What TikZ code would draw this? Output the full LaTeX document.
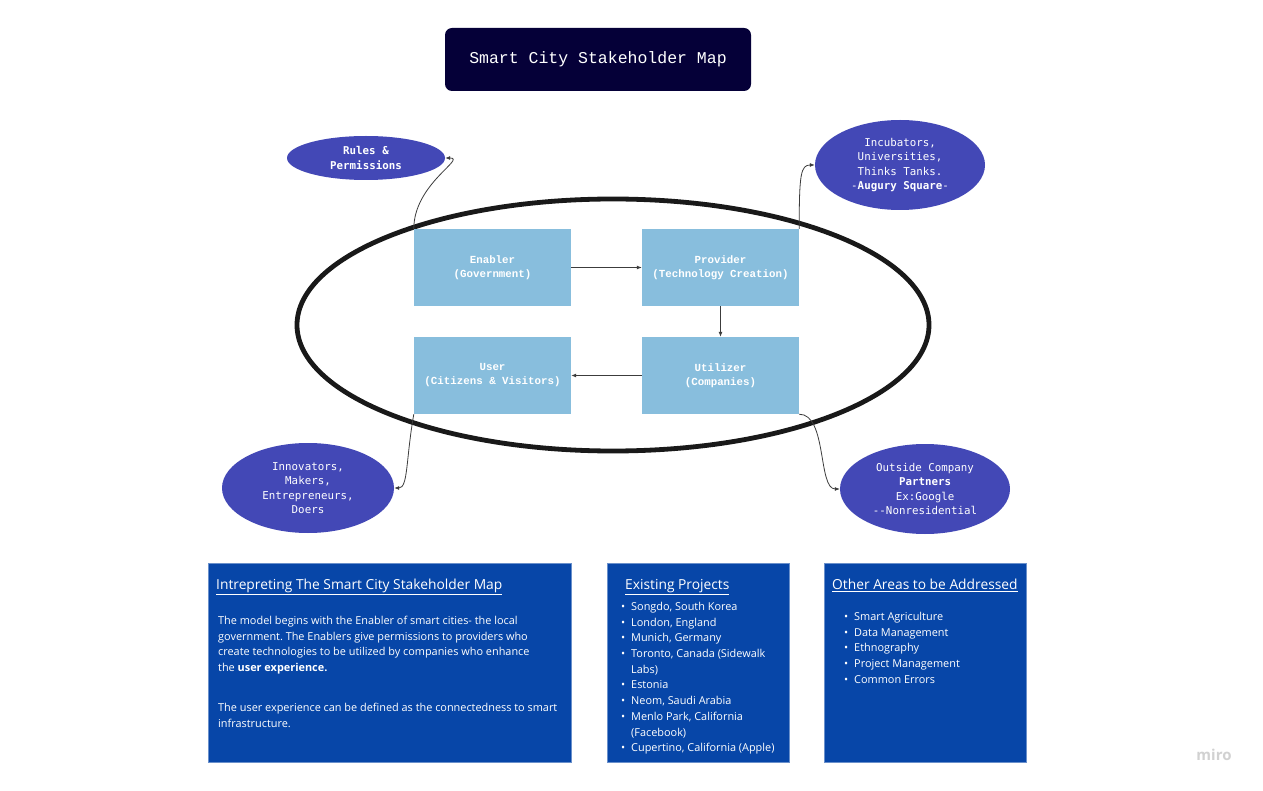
\documentclass[tikz,border=0pt]{standalone}
\usepackage{fontspec}
\setmainfont{Open Sans}
\setmonofont{Liberation Mono}
\newfontfamily\ellfont{DejaVu Sans Mono}
\usetikzlibrary{shapes.geometric,arrows.meta}

\definecolor{titlenavy}{RGB}{5,0,56}
\definecolor{roleblue}{RGB}{136,190,221}
\definecolor{groupblue}{RGB}{67,72,182}
\definecolor{infoblue}{RGB}{7,70,168}
\definecolor{linkgray}{RGB}{60,60,60}
\definecolor{ringblack}{RGB}{25,25,25}

\newcommand{\itemdot}{\makebox[10pt][l]{\textbullet}}
\newcommand{\itemgap}{\hspace*{10pt}}
\frenchspacing

\begin{document}
\begin{tikzpicture}[x=1pt,y=-1pt,
    >={Latex[length=5pt,width=4pt]},
    rolebox/.style={rectangle,fill=roleblue,text=white,minimum width=157pt,
        minimum height=77pt,align=center,
        font=\ttfamily\bfseries\fontsize{10.8}{14}\selectfont},
    group/.style={ellipse,fill=groupblue,text=white,inner sep=0pt,align=center,
        font=\ellfont\fontsize{10.8}{14.5}\selectfont},
    infobox/.style={rectangle,fill=infoblue,draw=infoblue!60!white,line width=0.6pt},
    infotitle/.style={anchor=north west,inner sep=0pt,text=white,
        font=\fontsize{13.8}{16}\selectfont},
    infotext/.style={anchor=north west,inner sep=0pt,text=white,align=left,
        font=\fontsize{10.9}{15.7}\selectfont},
    link/.style={->,linkgray,line width=0.8pt}]
        %% Page
        \fill[white] (0,0) rectangle (1263,791);
        %% Title
        \node[rectangle,rounded corners=7pt,fill=titlenavy,text=white,
            minimum width=306pt,minimum height=63pt,
            font=\ttfamily\fontsize{16.5}{18}\selectfont] (title) at (598,59.5)
            {Smart City Stakeholder Map};
        %% Ring
        \draw[ringblack,line width=4.8pt] (613,325) ellipse [x radius=316, y radius=126];
        %% Roles
        \node[rolebox] (enabler) at (492.5,267.5) {Enabler\\(Government)};
        \node[rolebox] (provider) at (720.5,267.5) {Provider\\(Technology Creation)};
        \node[rolebox] (user) at (492.5,375.5) {User\\(Citizens \& Visitors)};
        \node[rolebox] (utilizer) at (720.5,375.5) {Utilizer\\(Companies)};
        \draw[link] (enabler) -- (provider);
        \draw[link] (provider) -- (utilizer);
        \draw[link] (utilizer) -- (user);
        %% Groups
        \node[group,minimum width=158pt,minimum height=44pt] (rules) at (366,158)
            {\textbf{Rules \&}\\\textbf{Permissions}};
        \node[group,minimum width=170pt,minimum height=90pt] (incubators) at (900,165)
            {Incubators,\\Universities,\\Thinks Tanks.\\-\textbf{Augury Square}-};
        \node[group,minimum width=172pt,minimum height=90pt] (innovators) at (308,488)
            {Innovators,\\Makers,\\Entrepreneurs,\\Doers};
        \node[group,minimum width=170pt,minimum height=90pt] (partners) at (925,489)
            {Outside Company\\\textbf{Partners}\\Ex:Google\\--Nonresidential};
        \draw[link] (enabler.north west) .. controls +(0,-45) and +(22,0) .. (rules.east);
        \draw[link] (provider.north east) .. controls +(0,-55) and +(-14,0) .. (incubators.west);
        \draw[link] (user.south west) .. controls +(-8,45) and +(14,0) .. (innovators.east);
        \draw[link] (utilizer.south east) .. controls +(28,0) and +(-22,0) .. (partners.west);
        %% Notes
        \node[infobox,minimum width=363pt,minimum height=199pt] (interp) at (389.5,662.5) {};
        \node[infobox,minimum width=182pt,minimum height=199pt] (projects) at (698,662.5) {};
        \node[infobox,minimum width=202pt,minimum height=199pt] (areas) at (925,662.5) {};
        \node[infotitle] (interptitle) at (216,579)
            {\underline{Intrepreting The Smart City Stakeholder Map}};
        \node[infotext] (interptext) at (218,616)
            {The model begins with the Enabler of smart cities- the local\\
             government. The Enablers give permissions to providers who\\
             create technologies to be utilized by companies who enhance\\
             the \textbf{user experience.}};
        \node[infotext] (interpmore) at (218,703)
            {The user experience can be defined as the connectedness to smart\\
             infrastructure.};
        \node[infotitle] (projectstitle) at (625,579) {\underline{Existing Projects}};
        \node[infotext] (projectslist) at (621,602)
            {\itemdot Songdo, South Korea\\
             \itemdot London, England\\
             \itemdot Munich, Germany\\
             \itemdot Toronto, Canada (Sidewalk\\
             \itemgap Labs)\\
             \itemdot Estonia\\
             \itemdot Neom, Saudi Arabia\\
             \itemdot Menlo Park, California\\
             \itemgap (Facebook)\\
             \itemdot Cupertino, California (Apple)};
        \node[infotitle] (areastitle) at (832,579) {\underline{Other Areas to be Addressed}};
        \node[infotext] (areaslist) at (844,612)
            {\itemdot Smart Agriculture\\
             \itemdot Data Management\\
             \itemdot Ethnography\\
             \itemdot Project Management\\
             \itemdot Common Errors};
        %% Logo
        \node[text=black!18,font=\bfseries\fontsize{15}{16}\selectfont] (logo) at (1214,755) {miro};
    \end{tikzpicture}
\end{document}
